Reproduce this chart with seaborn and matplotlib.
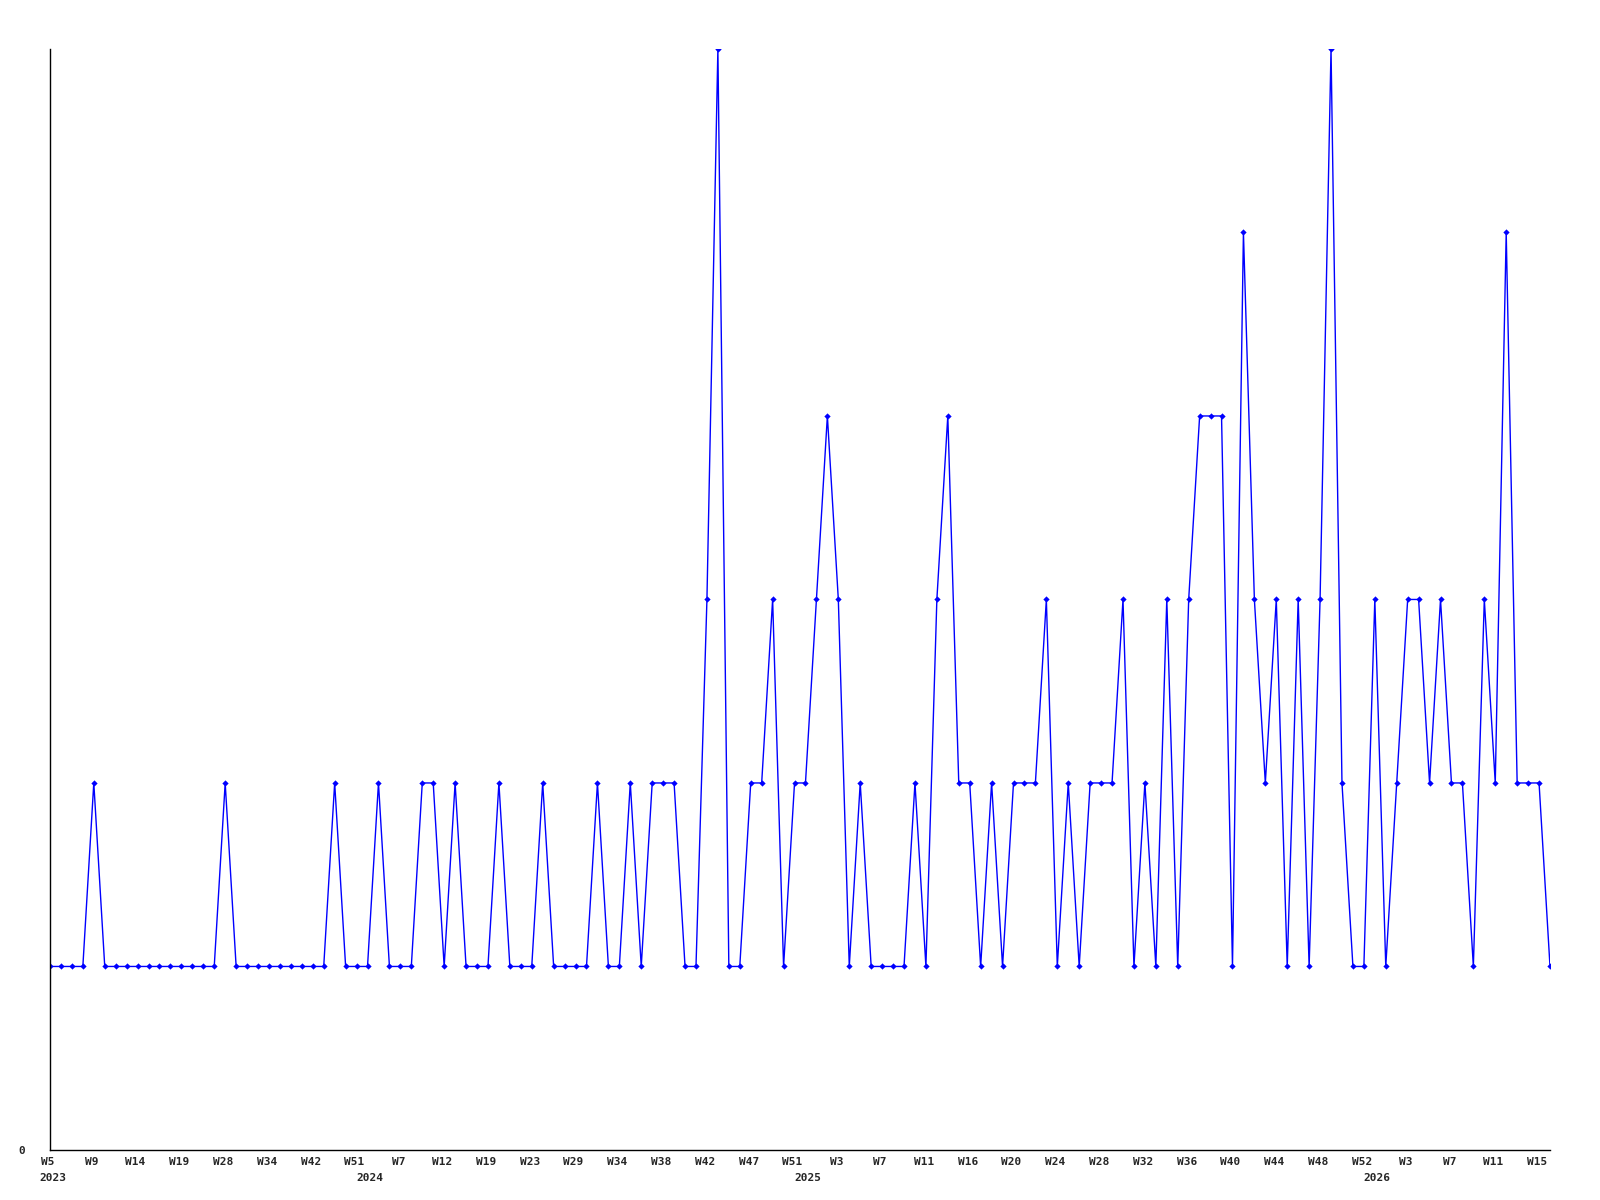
import numpy as np
import pandas as pd
import seaborn as sns
import matplotlib
matplotlib.use("Agg")
import matplotlib.pyplot as plt
import matplotlib.transforms as mtransforms

# Weekly counts, one value per plotted week
counts = [
    1, 1, 1, 1, 2, 1, 1, 1, 1, 1,
    1, 1, 1, 1, 1, 1, 2, 1, 1, 1,
    1, 1, 1, 1, 1, 1, 2, 1, 1, 1,
    2, 1, 1, 1, 2, 2, 1, 2, 1, 1,
    1, 2, 1, 1, 1, 2, 1, 1, 1, 1,
    2, 1, 1, 2, 1, 2, 2, 2, 1, 1,
    3, 6, 1, 1, 2, 2, 3, 1, 2, 2,
    3, 4, 3, 1, 2, 1, 1, 1, 1, 2,
    1, 3, 4, 2, 2, 1, 2, 1, 2, 2,
    2, 3, 1, 2, 1, 2, 2, 2, 3, 1,
    2, 1, 3, 1, 3, 4, 4, 4, 1, 5,
    3, 2, 3, 1, 3, 1, 3, 6, 2, 1,
    1, 3, 1, 2, 3, 3, 2, 3, 2, 2,
    1, 3, 2, 5, 2, 2, 2, 1,
]

# week labels, shown under every 4th point
week_labels = ["W5", "W9", "W14", "W19", "W28", "W34", "W42", "W51",
               "W7", "W12", "W19", "W23", "W29", "W34", "W38", "W42", "W47", "W51",
               "W3", "W7", "W11", "W16", "W20", "W24", "W28", "W32", "W36", "W40",
               "W44", "W48", "W52",
               "W3", "W7", "W11", "W15"]
label_step = 4

# year labels and the point they sit under
years = ["2023", "2024", "2025", "2026"]
year_at = [0.3, 29.2, 69.2, 121.2]

df = pd.DataFrame({"week": np.arange(len(counts)), "count": counts})

sns.set_style("white")
plt.rcParams["font.family"] = ["DejaVu Sans Mono"]

fig = plt.figure(figsize=(16, 12), dpi=100)
ax = fig.add_axes([0.03125, 0.0417, 0.9375, 0.9175])

sns.lineplot(data=df, x="week", y="count", ax=ax, color="#0000ff",
             linewidth=1, marker="D", markersize=3.2, markeredgewidth=0,
             markerfacecolor="#0000ff")

ax.set_xlim(0, len(counts) - 1)
ax.set_ylim(0, 6)
ax.set_xlabel("")
ax.set_ylabel("")
sns.despine(ax=ax)
for s in ["left", "bottom"]:
    ax.spines[s].set_color("black")
    ax.spines[s].set_linewidth(1)

# y axis: only the zero is labelled
ax.set_yticks([0])
ax.set_yticklabels(["0"], fontsize=8, fontweight="bold")
ax.tick_params(axis="y", length=0, pad=18)

ticks = np.arange(0, len(counts), label_step)
ax.set_xticks(ticks)
ax.set_xticklabels(week_labels, fontsize=8, fontweight="bold")
ax.tick_params(axis="x", length=0, pad=5)
shift = mtransforms.ScaledTranslation(-2 / 100, 0, fig.dpi_scale_trans)
for lab in ax.get_xticklabels():
    lab.set_transform(lab.get_transform() + shift)

trans = mtransforms.blended_transform_factory(ax.transData, ax.transAxes)
for y, pos in zip(years, year_at):
    ax.text(pos, -0.0213, y, transform=trans, ha="center", va="top",
            fontsize=8, fontweight="bold")

fig.savefig("out.png", dpi=100)
